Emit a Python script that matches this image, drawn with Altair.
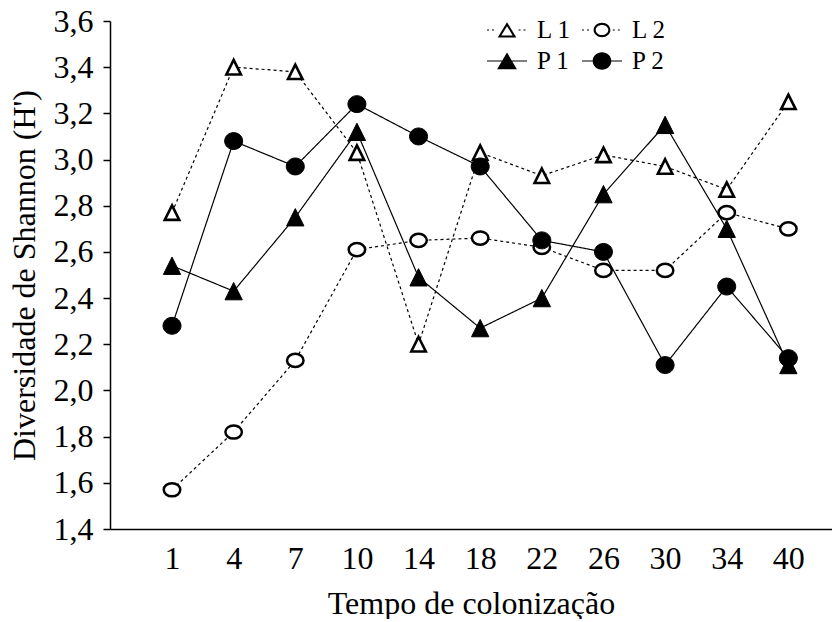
import altair as alt
import pandas as pd

# ---- data ----
dias = ["1", "4", "7", "10", "14", "18", "22", "26", "30", "34", "40"]
L1 = [2.77, 3.40, 3.38, 3.03, 2.20, 3.03, 2.93, 3.02, 2.97, 2.87, 3.25]
L2 = [1.57, 1.82, 2.13, 2.61, 2.65, 2.66, 2.62, 2.52, 2.52, 2.77, 2.70]
P1 = [2.54, 2.43, 2.75, 3.12, 2.49, 2.27, 2.40, 2.85, 3.15, 2.70, 2.11]
P2 = [2.28, 3.08, 2.97, 3.24, 3.10, 2.97, 2.65, 2.60, 2.11, 2.45, 2.14]
series_dom = ["L 1", "L 2", "P 1", "P 2"]
y_ticks = [1.4, 1.6, 1.8, 2.0, 2.2, 2.4, 2.6, 2.8, 3.0, 3.2, 3.4, 3.6]

rows = []
for serie, vals in [("L 1", L1), ("P 1", P1), ("L 2", L2), ("P 2", P2)]:
    for i, (d, v) in enumerate(zip(dias, vals)):
        rows.append({"serie": serie, "dia": d, "idx": i, "H": v})
df = pd.DataFrame(rows)

FONT = "Liberation Serif"

x_enc = alt.X(
    "dia:O", sort=dias,
    scale=alt.Scale(type="point", padding=0.857, align=0.587),
    axis=alt.Axis(title="Tempo de colonização", labelAngle=0, ticks=False, tickSize=0,
                  labelPadding=14, titlePadding=14, domainColor="black", domainWidth=1.5,
                  grid=False),
)
y_enc = alt.Y(
    "H:Q",
    scale=alt.Scale(domain=[1.4, 3.6], nice=False, zero=False),
    axis=alt.Axis(values=y_ticks, title="Diversidade de Shannon (H')",
                  labelExpr="replace(format(datum.value, '.1f'), '.', ',')",
                  tickSize=7, tickColor="black", tickWidth=1.5, labelPadding=10,
                  titlePadding=12, domainColor="black", domainWidth=1.5, grid=False),
)

base = alt.Chart(df)

lines = base.mark_line(color="black", strokeWidth=1.2).encode(
    x=x_enc, y=y_enc,
    detail="serie:N",
    order="idx:Q",
    strokeDash=alt.StrokeDash("serie:N", scale=alt.Scale(domain=series_dom,
                              range=[[3, 3], [3, 3], [1, 0], [1, 0]]), legend=None),
)

TRI = "M0,-1L1,1L-1,1Z"
ELL_OPEN = "M1,0A1,0.8,0,1,1,-1,0A1,0.8,0,1,1,1,0Z"
ELL_FILL = "M1,0A1,0.94,0,1,1,-1,0A1,0.94,0,1,1,1,0Z"
marker_style = {
    "L 1": dict(shape=TRI, fill="white", size=210, sw=2.6),
    "P 1": dict(shape=TRI, fill="black", size=300, sw=1),
    "L 2": dict(shape=ELL_OPEN, fill="white", size=272, sw=2.5),
    "P 2": dict(shape=ELL_FILL, fill="black", size=324, sw=1),
}
point_layers = []
for s in ["L 1", "P 1", "L 2", "P 2"]:
    st = marker_style[s]
    point_layers.append(
        base.transform_filter(alt.datum.serie == s).mark_point(
            shape=st["shape"], fill=st["fill"], size=st["size"], stroke="black",
            strokeWidth=st["sw"], opacity=1, filled=False
        ).encode(x=x_enc, y=y_enc)
    )

# ---- legend symbols: line + marker drawn as filled paths (rings for open markers)
T = 0.04  # half thickness of the legend line


def rect(a, b):
    return f"M{a:.3f},{-T}L{b:.3f},{-T}L{b:.3f},{T}L{a:.3f},{T}Z"


def dots(a, b):
    segs, pos = [], a
    while pos < b - 0.05:
        segs.append(rect(pos, min(pos + 0.133, b)))
        pos += 0.333
    return "".join(segs)


tri_ring = ("M0,-0.52L0.62,0.5L-0.62,0.5Z"
            "M0,-0.25L-0.38,0.36L0.38,0.36Z")
ell_ring = ("M0.56,0A0.56,0.48,0,1,1,-0.56,0A0.56,0.48,0,1,1,0.56,0Z"
            "M0.42,0A0.42,0.34,0,1,0,-0.42,0A0.42,0.34,0,1,0,0.42,0Z")
tri_full = "M0,-0.57L0.66,0.55L-0.66,0.55Z"
ell_full = "M0.62,0A0.62,0.58,0,1,1,-0.62,0A0.62,0.58,0,1,1,0.62,0Z"

# legend fills column by column: column 1 = L 1, P 1; column 2 = L 2, P 2
leg_dom = ["L 1", "P 1", "L 2", "P 2"]
leg_paths = [
    dots(-1.333, -0.7) + dots(0.77, 1.333) + tri_ring,
    rect(-1.333, 1.333) + tri_full,
    dots(-1.333, -0.64) + dots(0.72, 1.333) + ell_ring,
    rect(-1.333, 1.333) + ell_full,
]

leg = alt.Legend(title=None, orient="none", legendX=382, legendY=-6, columns=2,
                 symbolSize=900, labelFontSize=25, labelFont=FONT, labelColor="black",
                 labelOffset=15, columnPadding=10, rowPadding=3,
                 symbolStrokeWidth=0, symbolFillColor="black")

legend_layer = base.mark_point(filled=True, color="black", opacity=0).encode(
    shape=alt.Shape("serie:N", scale=alt.Scale(domain=leg_dom, range=leg_paths), legend=leg),
)

chart = alt.layer(lines, *point_layers, legend_layer).properties(
    width=722, height=508,
    autosize=alt.AutoSizeParams(type="none"),
    padding={"left": 102, "top": 13, "right": 0, "bottom": 90},
).configure_view(stroke=None).configure_axis(
    labelFont=FONT, titleFont=FONT, labelFontSize=32, titleFontSize=32,
    labelColor="black", titleColor="black", titleFontWeight="normal",
).configure_legend(labelFont=FONT, labelFontSize=25)

chart.save("out.html", embed_options={"renderer": "svg", "actions": False})
